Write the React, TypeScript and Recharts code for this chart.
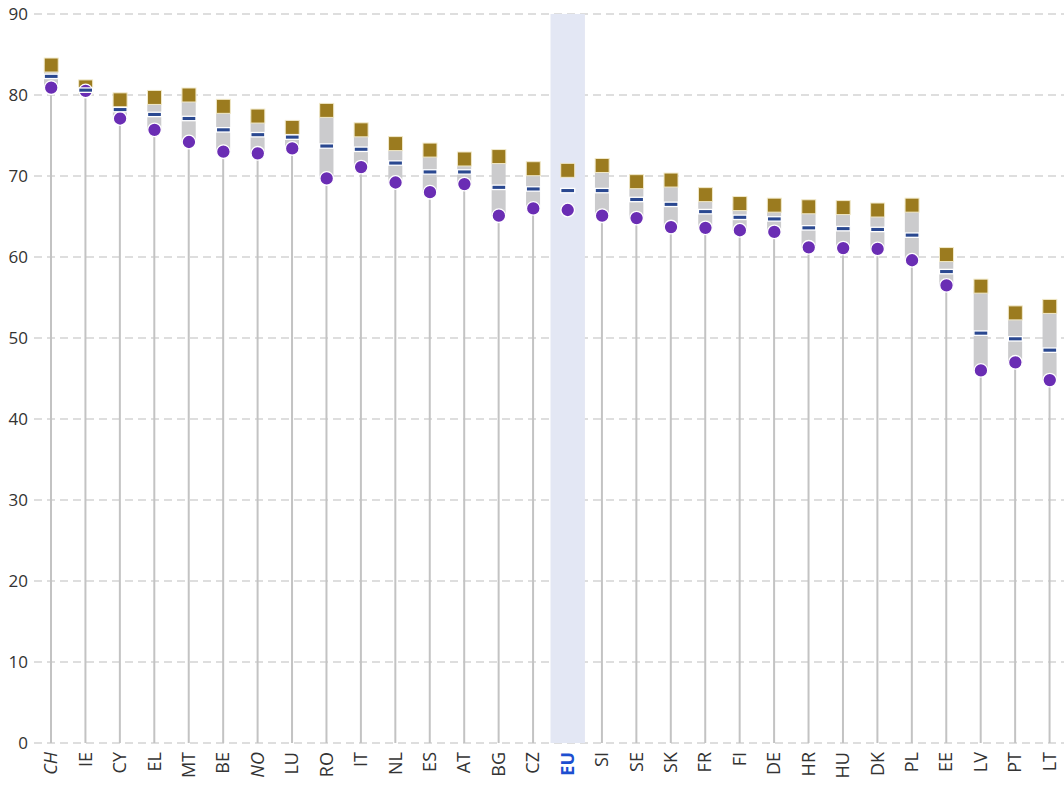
import {
  Bar,
  CartesianGrid,
  ComposedChart,
  ReferenceArea,
  Scatter,
  XAxis,
  YAxis,
} from "recharts";

const countries = [
  "CH", "IE", "CY", "EL", "MT", "BE", "NO", "LU", "RO", "IT",
  "NL", "ES", "AT", "BG", "CZ", "EU", "SI", "SE", "SK", "FR",
  "FI", "DE", "HR", "HU", "DK", "PL", "EE", "LV", "PT", "LT",
];
const nonEu = ["CH", "NO"];

// top marker (gold square)
const goldValues = [
  83.7, 81.0, 79.4, 79.7, 80.0, 78.6, 77.4, 76.0, 78.1, 75.7,
  74.0, 73.2, 72.1, 72.4, 70.9, 70.7, 71.3, 69.3, 69.5, 67.7,
  66.6, 66.4, 66.2, 66.1, 65.8, 66.4, 60.3, 56.4, 53.1, 53.9,
];
// middle marker (blue dash)
const blueValues = [
  82.3, 80.6, 78.2, 77.6, 77.1, 75.7, 75.1, 74.8, 73.7, 73.3,
  71.6, 70.5, 70.5, 68.6, 68.4, 68.2, 68.2, 67.1, 66.5, 65.6,
  64.9, 64.7, 63.6, 63.5, 63.4, 62.7, 58.2, 50.6, 49.9, 48.5,
];
// bottom marker (purple dot)
const dotValues = [
  80.9, 80.5, 77.1, 75.7, 74.2, 73.0, 72.8, 73.4, 69.7, 71.1,
  69.2, 68.0, 69.0, 65.1, 66.0, 65.8, 65.1, 64.8, 63.7, 63.6,
  63.3, 63.1, 61.2, 61.1, 61.0, 59.6, 56.5, 46.0, 47.0, 44.8,
];
const yTicks = [0, 10, 20, 30, 40, 50, 60, 70, 80, 90];

const data = countries.map((name, i) => {
  const isEu = name === "EU";
  return {
    name,
    gold: goldValues[i],
    blue: blueValues[i],
    dot: dotValues[i],
    stem: isEu ? null : dotValues[i],
    range: isEu ? null : [dotValues[i], goldValues[i]],
  };
});

const GoldSquare = ({ cx, cy }: any) => (
  <rect
    x={cx - 7}
    y={cy - 7}
    width={14}
    height={14}
    fill="#9b7b1f"
    stroke="#f1e9c9"
    strokeWidth={1}
  />
);

const BlueDash = ({ cx, cy }: any) => (
  <rect
    x={cx - 7}
    y={cy - 2.2}
    width={14}
    height={4.4}
    fill="#2a4890"
    stroke="#ffffff"
    strokeWidth={1.3}
  />
);

const PurpleDot = ({ cx, cy }: any) => (
  <circle cx={cx} cy={cy} r={6.8} fill="#6a2db4" stroke="#ffffff" strokeWidth={1.3} />
);

const CountryTick = ({ x, y, payload }: any) => {
  const v = payload.value;
  const isEu = v === "EU";
  return (
    <text
      transform={`translate(${x + 6},${y + 1}) rotate(-90)`}
      textAnchor="end"
      fontSize={18}
      fontFamily="Open Sans"
      fill={isEu ? "#1d4fd0" : "#333"}
      fontWeight={isEu ? 700 : 400}
      fontStyle={nonEu.includes(v) ? "italic" : "normal"}
    >
      {v}
    </text>
  );
};

export default function App() {
  return (
    <div
      style={{
        position: "fixed",
        left: 0,
        top: 0,
        width: 1064,
        height: 787,
        overflow: "hidden",
        background: "#fff",
      }}
    >
      <ComposedChart
        width={1067}
        height={787}
        data={data}
        margin={{ top: 14, right: 0, bottom: 0, left: 0 }}
      >
        <CartesianGrid
          vertical={false}
          stroke="#bdbdbd"
          strokeDasharray="8 5"
          strokeWidth={1.2}
        />
        <XAxis
          xAxisId="main"
          dataKey="name"
          height={44}
          interval={0}
          axisLine={false}
          tickLine={false}
          tick={<CountryTick />}
        />
        <XAxis xAxisId="stem" dataKey="name" hide />
        <XAxis xAxisId="range" dataKey="name" hide />
        <YAxis
          domain={[0, 90]}
          ticks={yTicks}
          width={34}
          axisLine={false}
          tickLine={false}
          tickMargin={0}
          tick={{ fontSize: 17, fill: "#333", fontFamily: "Open Sans" }}
        />
        <ReferenceArea
          xAxisId="main"
          x1="EU"
          x2="EU"
          y1={0}
          y2={90}
          fill="#e3e7f4"
          fillOpacity={1}
          stroke="none"
        />
        <Bar
          xAxisId="stem"
          dataKey="stem"
          barSize={2}
          fill="#c3c3c3"
          isAnimationActive={false}
        />
        <Bar
          xAxisId="range"
          dataKey="range"
          barSize={14}
          fill="#cbcbcd"
          isAnimationActive={false}
        />
        <Scatter
          xAxisId="main"
          dataKey="gold"
          shape={<GoldSquare />}
          isAnimationActive={false}
        />
        <Scatter
          xAxisId="main"
          dataKey="dot"
          shape={<PurpleDot />}
          isAnimationActive={false}
        />
        <Scatter
          xAxisId="main"
          dataKey="blue"
          shape={<BlueDash />}
          isAnimationActive={false}
        />
      </ComposedChart>
    </div>
  );
}
